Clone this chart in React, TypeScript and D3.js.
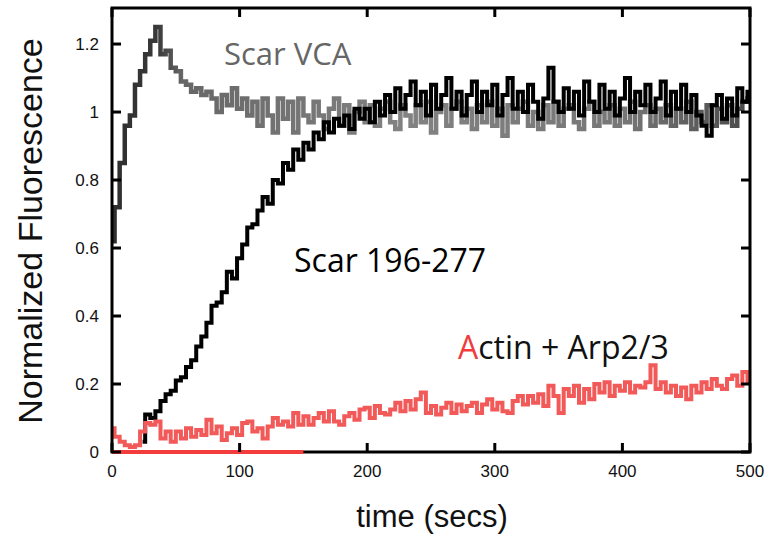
import React from 'react';
import * as d3 from 'd3';

const TIME_STEP = 4;

const xTicks = [0, 100, 200, 300, 400, 500];
const yTicks = [0, 0.2, 0.4, 0.6, 0.8, 1, 1.2];
const yTickLabels = ['0', '0.2', '0.4', '0.6', '0.8', '1', '1.2'];

// Scar VCA (t = 0, 4, 8 ... 500 s)
const scarVCA: number[] = [
  0.62, 0.72, 0.85, 0.96, 0.99, 1.08, 1.12, 1.17, 1.21, 1.25,
  1.17, 1.18, 1.13, 1.12, 1.09, 1.08, 1.06, 1.07, 1.05, 1.06,
  1.04, 1.00, 1.05, 1.02, 1.07, 1.01, 1.04, 0.99, 1.03, 0.96,
  1.04, 0.99, 0.94, 1.04, 0.98, 1.03, 0.94, 1.04, 0.99, 0.97,
  1.03, 0.99, 0.95, 1.01, 1.04, 0.96, 1.02, 0.94, 1.00, 1.03,
  0.97, 1.02, 0.96, 1.01, 1.03, 0.97, 0.95, 1.02, 0.99, 0.96,
  1.02, 0.97, 1.03, 0.94, 1.00, 1.02, 0.96, 1.01, 1.03, 0.97,
  1.01, 0.95, 1.02, 0.97, 1.03, 0.96, 1.01, 0.93, 1.02, 0.97,
  1.01, 1.03, 0.96, 1.00, 0.95, 1.02, 0.97, 1.03, 0.96, 1.01,
  1.02, 0.97, 0.95, 1.01, 1.03, 0.96, 1.00, 0.97, 1.02, 0.96,
  1.01, 0.97, 1.03, 0.95, 1.00, 1.02, 0.96, 1.01, 0.97, 1.02,
  0.96, 1.01, 0.97, 1.03, 0.95, 1.00, 0.97, 1.02, 0.96, 1.01,
  0.97, 1.02, 0.96, 1.01, 1.03, 1.04,
];

// Scar 196-277 (t = 0, 4, 8 ... 500 s); null = no visible trace
const scar196: (number | null)[] = [
  null, null, null, null, null, null, 0.03, 0.11, 0.10, 0.12,
  0.15, 0.17, 0.18, 0.21, 0.22, 0.25, 0.27, 0.31, 0.34, 0.38,
  0.43, 0.44, 0.47, 0.53, 0.51, 0.57, 0.61, 0.66, 0.67, 0.71,
  0.75, 0.73, 0.80, 0.79, 0.85, 0.83, 0.89, 0.86, 0.91, 0.89,
  0.94, 0.92, 0.97, 0.94, 0.98, 0.96, 0.99, 0.95, 1.01, 0.98,
  1.01, 0.97, 1.03, 0.99, 1.05, 1.00, 1.07, 1.01, 1.05, 1.09,
  1.02, 1.06, 0.99, 1.08, 1.01, 1.05, 1.10, 1.01, 1.06, 0.99,
  1.05, 1.09, 1.00, 1.06, 1.02, 1.08, 0.99, 1.05, 1.10, 1.01,
  1.06, 1.00, 1.08, 1.03, 0.98, 1.04, 1.13, 1.03, 1.00, 1.07,
  1.01, 1.06, 0.99, 1.09, 1.03, 1.00, 1.08, 1.01, 1.06, 0.99,
  1.04, 1.10, 1.00, 1.06, 1.02, 1.08, 1.00, 1.04, 1.09, 0.99,
  1.06, 1.01, 1.08, 1.00, 1.05, 0.99, 0.96, 0.93, 1.02, 1.05,
  0.98, 1.04, 0.99, 1.07, 1.03, 1.06,
];

// Actin + Arp2/3 (t = 0, 4, 8 ... 500 s)
const actinArp: number[] = [
  0.07, 0.045, 0.03, 0.02, 0.015, 0.02, 0.06, 0.085, 0.08, 0.09,
  0.04, 0.06, 0.03, 0.06, 0.04, 0.07, 0.045, 0.065, 0.05, 0.095,
  0.055, 0.075, 0.035, 0.055, 0.07, 0.05, 0.085, 0.09, 0.06, 0.07,
  0.04, 0.075, 0.10, 0.08, 0.09, 0.075, 0.115, 0.08, 0.105, 0.08,
  0.10, 0.115, 0.09, 0.12, 0.09, 0.08, 0.105, 0.115, 0.095, 0.125,
  0.13, 0.10, 0.135, 0.115, 0.11, 0.125, 0.145, 0.12, 0.15, 0.125,
  0.155, 0.175, 0.115, 0.135, 0.11, 0.13, 0.145, 0.115, 0.14, 0.12,
  0.135, 0.145, 0.115, 0.14, 0.155, 0.125, 0.145, 0.12, 0.115, 0.15,
  0.165, 0.14, 0.165, 0.145, 0.17, 0.135, 0.195, 0.165, 0.115, 0.185,
  0.165, 0.195, 0.145, 0.185, 0.155, 0.20, 0.175, 0.205, 0.165, 0.195,
  0.18, 0.205, 0.175, 0.195, 0.19, 0.205, 0.255, 0.185, 0.205, 0.175,
  0.195, 0.165, 0.19, 0.155, 0.195, 0.175, 0.205, 0.185, 0.215, 0.195,
  0.185, 0.215, 0.225, 0.195, 0.235, 0.205,
];

// red trace lying on the zero line at the start
const baselineTimes = [0, 150];
const baselineValues = [0, 0];

const W = 774;
const H = 539;

type Pt = [number, number | null];

export default function App() {
  const x = d3.scaleLinear().domain([0, 500]).range([112, 750]);
  const y = d3.scaleLinear().domain([0, 1.306]).range([452, 8]);

  const toPts = (vals: (number | null)[]): Pt[] => vals.map((v, i) => [i * TIME_STEP, v]);
  const line = d3
    .line<Pt>()
    .defined((d) => d[1] !== null)
    .x((d) => x(d[0]))
    .y((d) => y(d[1] as number))
    .curve(d3.curveStep);

  const baseline: Pt[] = baselineTimes.map((t, i) => [t, baselineValues[i]]);

  const [x0, x1] = x.range();
  const [yb, yt] = y.range();
  const tickLen = 9;
  const axisFont = 'Liberation Sans, Arial, Helvetica, sans-serif';
  const labelFont = '"Open Sans", "Noto Sans", sans-serif';

  const vcaPath = line(toPts(scarVCA)) || '';
  const scarPath = line(toPts(scar196)) || '';
  const actinPath = line(toPts(actinArp)) || '';

  return (
    <svg width={W} height={H} style={{ position: 'absolute', left: 0, top: 0, background: '#fff' }}>
      <defs>
        <clipPath id="plot">
          <rect x={x0} y={yt} width={x1 - x0} height={yb - yt} />
        </clipPath>
        <linearGradient id="vcaGrad" gradientUnits="userSpaceOnUse" x1={x(0)} y1={0} x2={x(500)} y2={0}>
          <stop offset="0" stopColor="#2e2e2e" />
          <stop offset="0.07" stopColor="#383838" />
          <stop offset="0.11" stopColor="#666" />
          <stop offset="0.45" stopColor="#828282" />
          <stop offset="0.8" stopColor="#777" />
          <stop offset="1" stopColor="#4a4a4a" />
        </linearGradient>
      </defs>

      <g clipPath="url(#plot)" fill="none" strokeLinejoin="miter">
        <path d={vcaPath} stroke="url(#vcaGrad)" strokeWidth={4.5} />
        <path d={scarPath} stroke="#000" strokeWidth={4} />
        <path d={actinPath} stroke="#f25a5a" strokeWidth={4} />
      </g>

      {/* frame */}
      <rect x={x0} y={yt} width={x1 - x0} height={yb - yt} fill="none" stroke="#000" strokeWidth={3} />
      <path d={line(baseline) || ''} fill="none" stroke="#f33c3c" strokeWidth={4} />

      {/* ticks */}
      <g stroke="#000" strokeWidth={3}>
        {xTicks.map((t) => (
          <g key={'xt' + t}>
            <line x1={x(t)} x2={x(t)} y1={yb} y2={yb - tickLen} />
            <line x1={x(t)} x2={x(t)} y1={yt} y2={yt + tickLen} />
          </g>
        ))}
        {yTicks.map((t) => (
          <g key={'yt' + t}>
            <line x1={x0} x2={x0 + tickLen} y1={y(t)} y2={y(t)} />
            <line x1={x1} x2={x1 - tickLen} y1={y(t)} y2={y(t)} />
          </g>
        ))}
      </g>

      {/* tick labels */}
      <g fontFamily={axisFont} fontSize={17} fill="#111">
        {xTicks.map((t) => (
          <text key={'xl' + t} x={x(t)} y={yb + 25} textAnchor="middle">
            {t}
          </text>
        ))}
        {yTicks.map((t, i) => (
          <text key={'yl' + t} x={x0 - 13} y={y(t)} dy="0.35em" textAnchor="end">
            {yTickLabels[i]}
          </text>
        ))}
      </g>

      {/* axis titles */}
      <text x={432} y={527} textAnchor="middle" fontFamily={axisFont} fontSize={31} fill="#111">
        time (secs)
      </text>
      <text
        transform={`translate(42, ${231}) rotate(-90)`}
        textAnchor="middle"
        fontFamily={axisFont}
        fontSize={34}
        fill="#111"
      >
        Normalized Fluorescence
      </text>

      {/* series labels */}
      <text x={224} y={65} fontFamily={labelFont} fontSize={31} fill="#666">
        Scar VCA
      </text>
      <text x={294} y={272} fontFamily={labelFont} fontSize={32} fill="#000">
        Scar 196-277
      </text>
      <text x={458} y={359} fontFamily={labelFont} fontSize={32} fill="#111">
        <tspan fill="#f03c3c">A</tspan>ctin + Arp2/3
      </text>
    </svg>
  );
}
